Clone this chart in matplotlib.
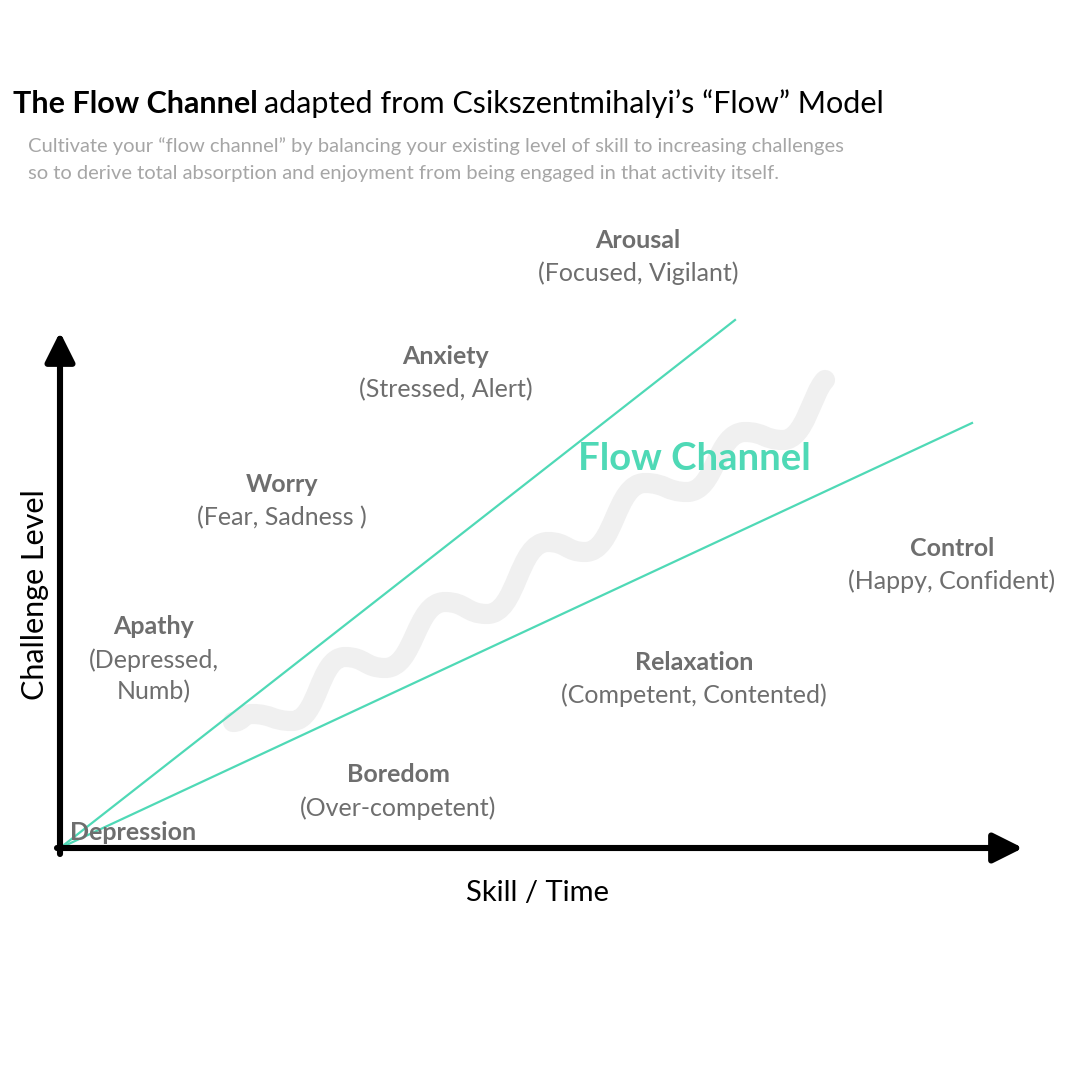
import matplotlib
matplotlib.use("Agg")
import matplotlib.pyplot as plt
from matplotlib.path import Path
from matplotlib.patches import PathPatch

# flow channel diagram (Csikszentmihalyi)
# coordinates: skill to the right, challenge up, origin at the axes corner

TEAL = '#4fd9b6'
LABEL_GREY = '#6e6e6e'

# channel borders: both start at the origin
channel_upper = [(0, 0), (675, 528)]
channel_lower = [(0, 0), (912, 425)]

# grey wavy path: its turning points (highs and lows)
wave_points = [(173, 126), (192, 134), (232, 127), (285, 191), (325, 180),
               (385, 246), (427, 234), (488, 306), (525, 296), (585, 365),
               (627, 356), (685, 416), (723, 408), (765, 468)]

# zone names, their feelings and where they sit
zones = ['Arousal', 'Anxiety', 'Worry', 'Apathy', 'Boredom', 'Relaxation', 'Control']
feelings = [['(Focused, Vigilant)'], ['(Stressed, Alert)'], ['(Fear, Sadness )'],
            ['(Depressed,', 'Numb)'], ['(Over-competent)'],
            ['(Competent, Contented)'], ['(Happy, Confident)']]
zone_x = [578, 386, 222, 94, 338, 634, 892]
zone_y = [608, 491, 363, 221, 73, 186, 300]

fig = plt.figure(figsize=(10.8, 10.8), dpi=100)
ax = fig.add_axes([0, 0, 1, 1])
ax.set_xlim(-60, 1020)
ax.set_ylim(-232, 848)
ax.axis('off')

FONT = 'Lato'

# axes with arrow heads
ax.annotate('', xy=(0, 516), xytext=(0, -6),
            arrowprops=dict(arrowstyle='-|>', lw=4.4, color='black',
                            mutation_scale=45, shrinkA=0, shrinkB=0))
ax.annotate('', xy=(963, 0), xytext=(-3, 0),
            arrowprops=dict(arrowstyle='-|>', lw=4.4, color='black',
                            mutation_scale=45, shrinkA=0, shrinkB=0))

# wave: smooth curves between turning points, flat tangent at each of them
verts = [wave_points[0]]
codes = [Path.MOVETO]
for (x0, y0), (x1, y1) in zip(wave_points[:-2], wave_points[1:-1]):
    h = (x1 - x0) * 0.5
    verts += [(x0 + h, y0), (x1 - h, y1), (x1, y1)]
    codes += [Path.CURVE4] * 3
# last piece ends while still climbing
(x0, y0), (x1, y1) = wave_points[-2], wave_points[-1]
verts += [(x0 + 22, y0), (x1 - 13, y1 - 13), (x1, y1)]
codes += [Path.CURVE4] * 3
ax.add_patch(PathPatch(Path(verts, codes), fill=False, edgecolor='#f0f0f0',
                       lw=14.5, capstyle='round', joinstyle='round', zorder=1))

# channel lines
for line in (channel_upper, channel_lower):
    xs = [p[0] for p in line]
    ys = [p[1] for p in line]
    ax.plot(xs, ys, color=TEAL, lw=1.6, clip_on=False, zorder=2)

for name, feel, x, y in zip(zones, feelings, zone_x, zone_y):
    ax.text(x, y, name, ha='center', va='center', fontsize=18,
            fontweight='bold', color=LABEL_GREY, family=FONT)
    for i, line in enumerate(feel):
        ax.text(x, y - 33 - 32 * i, line, ha='center', va='center', fontsize=18,
                color=LABEL_GREY, family=FONT)

ax.text(10, 16, 'Depression', ha='left', va='center', fontsize=18,
        fontweight='bold', color=LABEL_GREY, family=FONT, zorder=3)

ax.text(634, 389, 'Flow Channel', ha='center', va='center', fontsize=27.5,
        fontweight='bold', color=TEAL, family=FONT, zorder=3)

ax.text(478, -45, 'Skill / Time', ha='center', va='center', fontsize=21,
        color='black', family=FONT)
ax.text(-25, 253, 'Challenge Level', ha='center', va='center', fontsize=22,
        rotation=90, color='black', family=FONT)

# title: bold part then regular part right after it
t1 = fig.text(13 / 1080, 1 - 113 / 1080, 'The Flow Channel', fontsize=22,
              fontweight='bold', family=FONT, va='baseline', ha='left')
renderer = fig.canvas.get_renderer()
bb = t1.get_window_extent(renderer=renderer)
fig.text(bb.x1 / 1080 + 6 / 1080, 1 - 113 / 1080,
         'adapted from Csikszentmihalyi’s “Flow” Model', fontsize=22,
         family=FONT, va='baseline', ha='left')

fig.text(28 / 1080, 1 - 146 / 1080,
         'Cultivate your “flow channel” by balancing your existing level of skill to increasing challenges',
         fontsize=14.5, color='#a6a6a6', family=FONT, va='center', ha='left')
fig.text(28 / 1080, 1 - 173 / 1080,
         'so to derive total absorption and enjoyment from being engaged in that activity itself.',
         fontsize=14.5, color='#a6a6a6', family=FONT, va='center', ha='left')

fig.savefig('out.png', dpi=100, facecolor='white')
